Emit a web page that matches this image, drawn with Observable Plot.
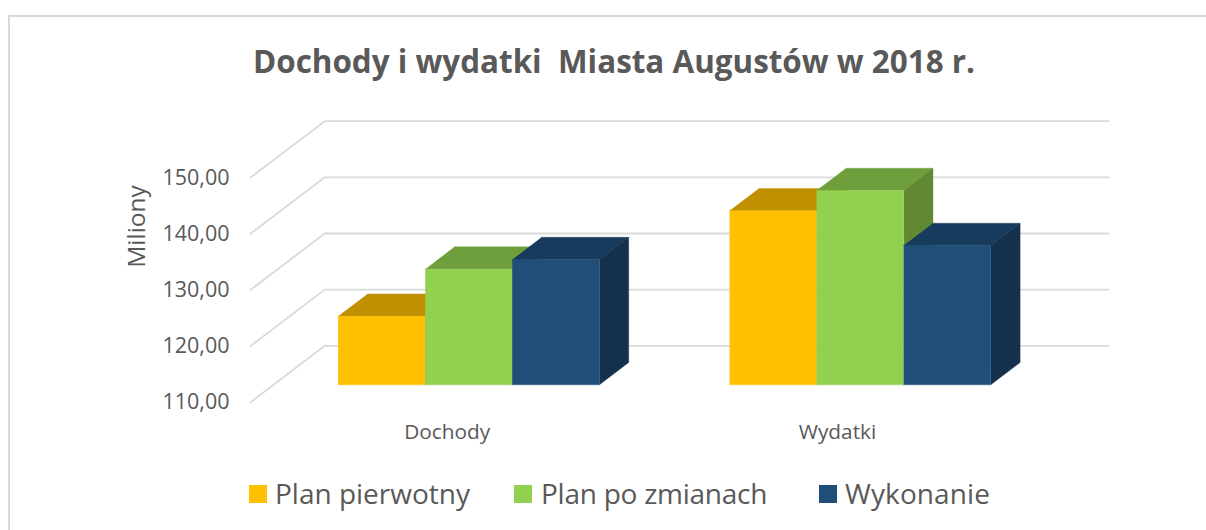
<!DOCTYPE html>
<html lang="pl">
<head>
<meta charset="utf-8">
<script src="https://cdn.jsdelivr.net/npm/d3@7"></script>
<script src="https://cdn.jsdelivr.net/npm/@observablehq/plot@0.6"></script>
<style>
  html, body { margin: 0; padding: 0; background: #fff; }
  #page { position: relative; width: 1206px; height: 530px; overflow: hidden; font-family: "Open Sans", sans-serif; color: #595959; }
  #frame { position: absolute; left: 8px; top: 15px; width: 1198px; height: 515px; border-left: 2px solid #d9d9d9; border-top: 2px solid #d9d9d9; box-sizing: border-box; }
  #title { position: absolute; left: 0; top: 39px; width: 1228px; text-align: center; font-size: 31.4px; line-height: 44px; font-weight: 700; white-space: pre; }
  #chart { position: absolute; left: 0; top: 100px; }
  #chart svg { display: block; }
  .key { position: absolute; top: 471px; font-size: 28px; line-height: 44px; white-space: nowrap; }
  .swatch { position: absolute; top: 485px; width: 18px; height: 18px; }
</style>
</head>
<body>
<div id="page">
  <div id="frame"></div>
  <div id="title"></div>
  <div id="chart"></div>
  <div id="legend"></div>
</div>
<script>
const chartTitle = "Dochody i wydatki  Miasta Augustów w 2018 r.";
const axisTitle = "Miliony";
const categories = ["Dochody", "Wydatki"];
const seriesNames = ["Plan pierwotny", "Plan po zmianach", "Wykonanie"];
const planPierwotny = [122.2, 141.0];
const planPoZmianach = [130.6, 144.6];
const wykonanie = [132.3, 134.8];
const yTicks = [110, 120, 130, 140, 150];

const frontColors = ["#FFC000", "#92D050", "#1F4E79"];
const topColors = ["#C09000", "#6F9E3D", "#173B5C"];
const sideColors = ["#C09000", "#628834", "#14304C"];

// Projection of the pseudo-3D box
const baseValue = 110;
const categoryStart = [337.6, 729];
const categoryLabelX = [446.7, 837];
const barWidth = 87.1;
const depthX = 29.3;
const depthValue = 3.97;
const wallX = 324.3, floorFrontX = 250, wallEndX = 1108;
const wallLift = 6.95, floorDrop = 3.1;

const seriesValues = [planPierwotny, planPoZmianach, wykonanie];

const faces = [];
categories.forEach((category, c) => {
  seriesValues.forEach((values, s) => {
    const v = values[c];
    const a = categoryStart[c] + s * barWidth, b = a + barWidth;
    const id = `${category}-${s}`;
    const add = (face, color, pts) => pts.forEach(([x, y]) => faces.push({id: `${id}-${face}`, color, x, y}));
    add("top", topColors[s], [[a, v], [b, v], [b + depthX, v + depthValue], [a + depthX, v + depthValue]]);
    add("side", sideColors[s], [[b, v], [b + depthX, v + depthValue], [b + depthX, baseValue + depthValue], [b, baseValue]]);
    add("front", frontColors[s], [[a, baseValue], [b, baseValue], [b, v], [a, v]]);
  });
});

const walls = yTicks.flatMap((t) => [
  {tick: t, x: floorFrontX, y: t - floorDrop},
  {tick: t, x: wallX, y: t + wallLift},
  {tick: t, x: wallEndX, y: t + wallLift}
]);

const plot = Plot.plot({
  width: 1206,
  height: 360,
  marginTop: 0, marginRight: 0, marginBottom: 0, marginLeft: 0,
  style: {fontFamily: '"Open Sans", sans-serif', background: "transparent", overflow: "visible"},
  x: {domain: [0, 1206], range: [0, 1206], axis: null},
  y: {domain: [110, 150], range: [284.3, 59.7], axis: null},
  marks: [
    Plot.line(walls, {x: "x", y: "y", z: "tick", stroke: "#dadada", strokeWidth: 1.8, curve: "linear"}),
    Plot.line(faces, {x: "x", y: "y", z: "id", fill: "color", stroke: "color", strokeWidth: 0.4, curve: "linear"}),
    Plot.axisY({
      x: 229, anchor: "left", ticks: yTicks, tickSize: 0, tickPadding: 0, dy: 17.5, label: null,
      tickFormat: (d) => d.toFixed(2).replace(".", ","), fontSize: 21.5, color: "#595959", fill: "#595959", textAnchor: "end"
    }),
    Plot.text([axisTitle], {x: [136.5], y: [138.2], rotate: -90, fontSize: 24.5, fill: "#595959", text: (d) => d}),
    Plot.text(categories, {x: categoryLabelX, y: [110, 110], dy: 48, text: (d) => d, fontSize: 20.8, fill: "#595959"})
  ]
});
document.getElementById("chart").appendChild(plot);
document.getElementById("title").textContent = chartTitle;

const legend = document.getElementById("legend");
const swatchX = [249, 514, 819];
const labelX = [275, 541, 845];
const labelSpacing = ["0", "-0.25px", "0.1px"];
seriesNames.forEach((name, i) => {
  const s = document.createElement("div");
  s.className = "swatch";
  s.style.left = swatchX[i] + "px";
  s.style.background = frontColors[i];
  legend.appendChild(s);
  const t = document.createElement("div");
  t.className = "key";
  t.style.left = labelX[i] + "px";
  t.style.letterSpacing = labelSpacing[i];
  t.textContent = name;
  legend.appendChild(t);
});
</script>
</body>
</html>
